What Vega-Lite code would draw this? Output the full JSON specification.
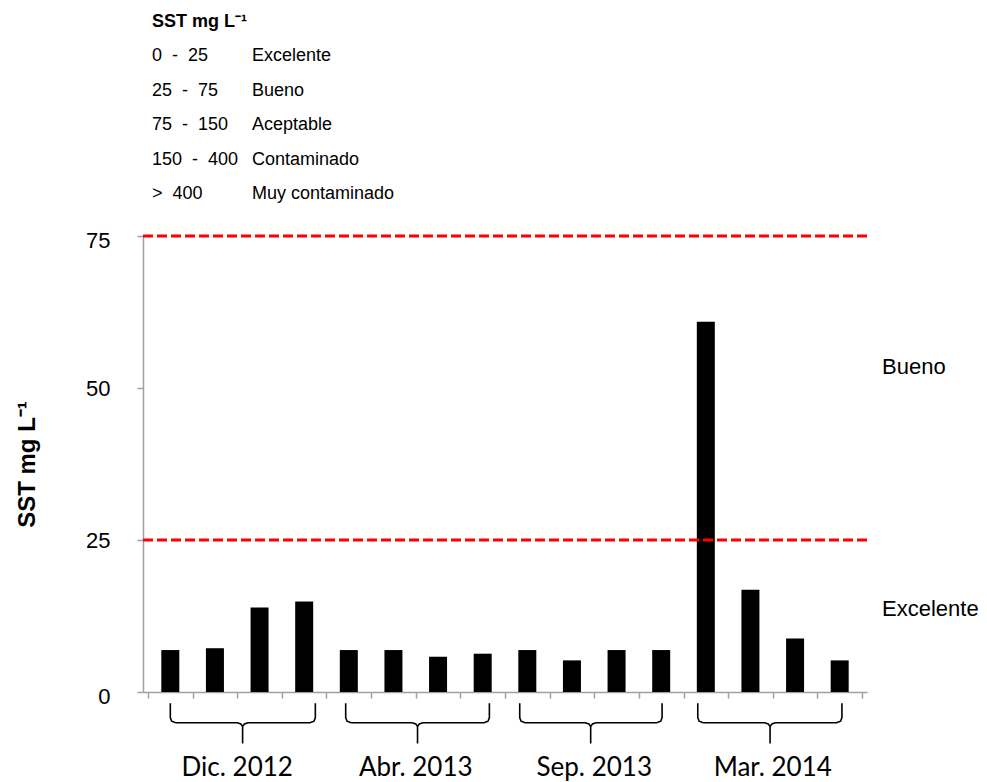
{
  "$schema": "https://vega.github.io/schema/vega-lite/v6.json",
  "width": 724,
  "height": 456,
  "autosize": "none",
  "padding": {"left": 143, "top": 236, "right": 120, "bottom": 90},
  "background": "white",
  "config": {
    "view": {"stroke": null},
    "font": "Liberation Sans"
  },
  "datasets": {
    "muestras": [
      {"muestra": 1, "campana": "Dic. 2012", "sst": 6.9},
      {"muestra": 2, "campana": "Dic. 2012", "sst": 7.2},
      {"muestra": 3, "campana": "Dic. 2012", "sst": 13.9},
      {"muestra": 4, "campana": "Dic. 2012", "sst": 14.9},
      {"muestra": 5, "campana": "Abr. 2013", "sst": 6.9},
      {"muestra": 6, "campana": "Abr. 2013", "sst": 6.9},
      {"muestra": 7, "campana": "Abr. 2013", "sst": 5.8},
      {"muestra": 8, "campana": "Abr. 2013", "sst": 6.3},
      {"muestra": 9, "campana": "Sep. 2013", "sst": 6.9},
      {"muestra": 10, "campana": "Sep. 2013", "sst": 5.2},
      {"muestra": 11, "campana": "Sep. 2013", "sst": 6.9},
      {"muestra": 12, "campana": "Sep. 2013", "sst": 6.9},
      {"muestra": 13, "campana": "Mar. 2014", "sst": 60.9},
      {"muestra": 14, "campana": "Mar. 2014", "sst": 16.8},
      {"muestra": 15, "campana": "Mar. 2014", "sst": 8.8},
      {"muestra": 16, "campana": "Mar. 2014", "sst": 5.2}
    ],
    "umbrales": [{"umbral": 25}, {"umbral": 75}],
    "niveles": [
      {"nivel": "Bueno", "sst": 53.5},
      {"nivel": "Excelente", "sst": 13.7}
    ],
    "tabla": [
      {"fila": 1, "rango": "0\u00a0\u00a0-\u00a0\u00a025", "clase": "Excelente"},
      {"fila": 2, "rango": "25\u00a0\u00a0-\u00a0\u00a075", "clase": "Bueno"},
      {"fila": 3, "rango": "75\u00a0\u00a0-\u00a0\u00a0150", "clase": "Aceptable"},
      {"fila": 4, "rango": "150\u00a0\u00a0-\u00a0\u00a0400", "clase": "Contaminado"},
      {"fila": 5, "rango": "\u00a0>\u00a0\u00a0400", "clase": "Muy contaminado"}
    ],
    "encabezado": [{"fila": 0, "texto": "SST mg L\u207b\u00b9"}],
    "llaves": [
      {"grupo": "Dic. 2012", "orden": 1, "u": 1.0, "v": -1.85},
      {"grupo": "Dic. 2012", "orden": 2, "u": 1.0, "v": -4.2},
      {"grupo": "Dic. 2012", "orden": 3, "u": 1.03, "v": -4.8},
      {"grupo": "Dic. 2012", "orden": 4, "u": 1.12, "v": -5.05},
      {"grupo": "Dic. 2012", "orden": 5, "u": 2.5, "v": -5.05},
      {"grupo": "Dic. 2012", "orden": 6, "u": 2.58, "v": -5.25},
      {"grupo": "Dic. 2012", "orden": 7, "u": 2.62, "v": -5.7},
      {"grupo": "Dic. 2012", "orden": 8, "u": 2.62, "v": -8.45},
      {"grupo": "Dic. 2012", "orden": 9, "u": 2.62, "v": -5.7},
      {"grupo": "Dic. 2012", "orden": 10, "u": 2.66, "v": -5.25},
      {"grupo": "Dic. 2012", "orden": 11, "u": 2.74, "v": -5.05},
      {"grupo": "Dic. 2012", "orden": 12, "u": 4.13, "v": -5.05},
      {"grupo": "Dic. 2012", "orden": 13, "u": 4.22, "v": -4.8},
      {"grupo": "Dic. 2012", "orden": 14, "u": 4.25, "v": -4.2},
      {"grupo": "Dic. 2012", "orden": 15, "u": 4.25, "v": -1.85},
      {"grupo": "Abr. 2013", "orden": 1, "u": 4.93, "v": -1.85},
      {"grupo": "Abr. 2013", "orden": 2, "u": 4.93, "v": -4.2},
      {"grupo": "Abr. 2013", "orden": 3, "u": 4.96, "v": -4.8},
      {"grupo": "Abr. 2013", "orden": 4, "u": 5.05, "v": -5.05},
      {"grupo": "Abr. 2013", "orden": 5, "u": 6.42, "v": -5.05},
      {"grupo": "Abr. 2013", "orden": 6, "u": 6.5, "v": -5.25},
      {"grupo": "Abr. 2013", "orden": 7, "u": 6.54, "v": -5.7},
      {"grupo": "Abr. 2013", "orden": 8, "u": 6.54, "v": -8.45},
      {"grupo": "Abr. 2013", "orden": 9, "u": 6.54, "v": -5.7},
      {"grupo": "Abr. 2013", "orden": 10, "u": 6.58, "v": -5.25},
      {"grupo": "Abr. 2013", "orden": 11, "u": 6.66, "v": -5.05},
      {"grupo": "Abr. 2013", "orden": 12, "u": 8.03, "v": -5.05},
      {"grupo": "Abr. 2013", "orden": 13, "u": 8.12, "v": -4.8},
      {"grupo": "Abr. 2013", "orden": 14, "u": 8.15, "v": -4.2},
      {"grupo": "Abr. 2013", "orden": 15, "u": 8.15, "v": -1.85},
      {"grupo": "Sep. 2013", "orden": 1, "u": 8.83, "v": -1.85},
      {"grupo": "Sep. 2013", "orden": 2, "u": 8.83, "v": -4.2},
      {"grupo": "Sep. 2013", "orden": 3, "u": 8.86, "v": -4.8},
      {"grupo": "Sep. 2013", "orden": 4, "u": 8.95, "v": -5.05},
      {"grupo": "Sep. 2013", "orden": 5, "u": 10.3, "v": -5.05},
      {"grupo": "Sep. 2013", "orden": 6, "u": 10.38, "v": -5.25},
      {"grupo": "Sep. 2013", "orden": 7, "u": 10.42, "v": -5.7},
      {"grupo": "Sep. 2013", "orden": 8, "u": 10.42, "v": -8.45},
      {"grupo": "Sep. 2013", "orden": 9, "u": 10.42, "v": -5.7},
      {"grupo": "Sep. 2013", "orden": 10, "u": 10.46, "v": -5.25},
      {"grupo": "Sep. 2013", "orden": 11, "u": 10.54, "v": -5.05},
      {"grupo": "Sep. 2013", "orden": 12, "u": 11.9, "v": -5.05},
      {"grupo": "Sep. 2013", "orden": 13, "u": 11.99, "v": -4.8},
      {"grupo": "Sep. 2013", "orden": 14, "u": 12.02, "v": -4.2},
      {"grupo": "Sep. 2013", "orden": 15, "u": 12.02, "v": -1.85},
      {"grupo": "Mar. 2014", "orden": 1, "u": 12.82, "v": -1.85},
      {"grupo": "Mar. 2014", "orden": 2, "u": 12.82, "v": -4.2},
      {"grupo": "Mar. 2014", "orden": 3, "u": 12.85, "v": -4.8},
      {"grupo": "Mar. 2014", "orden": 4, "u": 12.94, "v": -5.05},
      {"grupo": "Mar. 2014", "orden": 5, "u": 14.32, "v": -5.05},
      {"grupo": "Mar. 2014", "orden": 6, "u": 14.4, "v": -5.25},
      {"grupo": "Mar. 2014", "orden": 7, "u": 14.44, "v": -5.7},
      {"grupo": "Mar. 2014", "orden": 8, "u": 14.44, "v": -8.45},
      {"grupo": "Mar. 2014", "orden": 9, "u": 14.44, "v": -5.7},
      {"grupo": "Mar. 2014", "orden": 10, "u": 14.48, "v": -5.25},
      {"grupo": "Mar. 2014", "orden": 11, "u": 14.56, "v": -5.05},
      {"grupo": "Mar. 2014", "orden": 12, "u": 15.93, "v": -5.05},
      {"grupo": "Mar. 2014", "orden": 13, "u": 16.02, "v": -4.8},
      {"grupo": "Mar. 2014", "orden": 14, "u": 16.05, "v": -4.2},
      {"grupo": "Mar. 2014", "orden": 15, "u": 16.05, "v": -1.85}
    ]
  },
  "layer": [
    {
      "layer": [
        {
          "data": {"name": "muestras"},
          "mark": {"type": "bar", "orient": "vertical", "width": 18, "color": "#000000"},
          "encoding": {
            "x": {
              "field": "muestra", "type": "quantitative",
              "scale": {"domain": [0.5, 16.5], "nice": false, "zero": false},
              "axis": {
                "values": [0.5, 1.5, 2.5, 3.5, 4.5, 5.5, 6.5, 7.5, 8.5, 9.5, 10.5, 11.5, 12.5, 13.5, 14.5, 15.5, 16.5],
                "labels": false, "title": null, "grid": false,
                "domainColor": "#a0a0a0", "domainWidth": 1.5,
                "tickColor": "#a0a0a0", "tickWidth": 1.5, "tickSize": 6
              }
            },
            "y": {
              "field": "sst", "type": "quantitative",
              "scale": {"domain": [0, 75], "nice": false},
              "axis": {
                "values": [0, 25, 50, 75],
                "title": "SST mg L\u207b\u00b9",
                "titleFont": "Liberation Sans", "titleFontSize": 24, "titleFontWeight": "bold",
                "titleColor": "#000000", "titlePadding": 46,
                "labelFont": "Liberation Sans", "labelFontSize": 22, "labelColor": "#000000",
                "labelPadding": 27,
                "labelOffset": {"condition": {"test": "datum.value == 0 || datum.value == 75", "value": 4}, "value": 0},
                "grid": false,
                "domainColor": "#a0a0a0", "domainWidth": 1.5,
                "tickColor": "#a0a0a0", "tickWidth": 1.5, "tickSize": 6
              }
            }
          }
        },
        {
          "data": {"name": "umbrales"},
          "mark": {"type": "rule", "color": "#FF0000", "strokeWidth": 3, "strokeDash": [10, 4]},
          "encoding": {"y": {"field": "umbral", "type": "quantitative"}}
        },
        {
          "data": {"name": "niveles"},
          "mark": {"type": "text", "x": "width", "dx": 15, "align": "left", "baseline": "middle", "fontSize": 22, "font": "Liberation Sans", "color": "#000000"},
          "encoding": {
            "y": {"field": "sst", "type": "quantitative"},
            "text": {"field": "nivel"}
          }
        },
        {
          "data": {"name": "llaves"},
          "mark": {"type": "line", "color": "#000000", "strokeWidth": 1.6},
          "encoding": {
            "x": {"field": "u", "type": "quantitative"},
            "y": {"field": "v", "type": "quantitative"},
            "detail": {"field": "grupo"},
            "order": {"field": "orden", "type": "quantitative"}
          }
        },
        {
          "data": {"name": "muestras"},
          "mark": {"type": "text", "y": "height", "dy": 76, "baseline": "middle", "align": "center", "fontSize": 26, "font": "Lato", "color": "#000000"},
          "encoding": {
            "x": {"aggregate": "mean", "field": "muestra", "type": "quantitative"},
            "text": {"field": "campana"}
          }
        }
      ]
    },
    {
      "layer": [
        {
          "data": {"name": "encabezado"},
          "mark": {"type": "text", "align": "left", "baseline": "middle", "dx": 4, "fontSize": 18, "fontWeight": "bold", "font": "Liberation Sans", "color": "#000000"},
          "encoding": {
            "x": {"datum": 0.5, "type": "quantitative"},
            "y": {"field": "fila", "type": "ordinal", "scale": {"type": "point", "domain": [0, 1, 2, 3, 4, 5], "range": [-214.5, -42], "padding": 0}, "axis": null},
            "text": {"field": "texto"}
          }
        },
        {
          "data": {"name": "tabla"},
          "mark": {"type": "text", "align": "left", "baseline": "middle", "dx": 4, "fontSize": 18, "font": "Liberation Sans", "color": "#000000"},
          "encoding": {
            "x": {"datum": 0.5, "type": "quantitative"},
            "y": {"field": "fila", "type": "ordinal"},
            "text": {"field": "rango"}
          }
        },
        {
          "data": {"name": "tabla"},
          "mark": {"type": "text", "align": "left", "baseline": "middle", "dx": 104, "fontSize": 18, "font": "Liberation Sans", "color": "#000000"},
          "encoding": {
            "x": {"datum": 0.5, "type": "quantitative"},
            "y": {"field": "fila", "type": "ordinal"},
            "text": {"field": "clase"}
          }
        }
      ]
    }
  ],
  "resolve": {"scale": {"y": "independent"}}
}
